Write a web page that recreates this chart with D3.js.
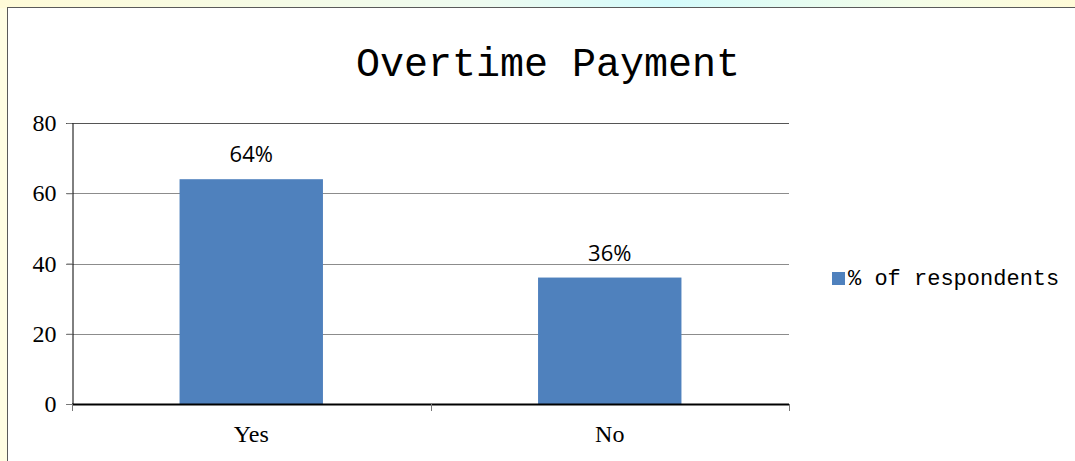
<!DOCTYPE html>
<html>
<head>
<meta charset="utf-8">
<script src="https://cdn.jsdelivr.net/npm/d3@7"></script>
<style>
  html, body { margin: 0; padding: 0; background: #fffde3; }
  #canvas { width: 1075px; height: 461px; }
</style>
</head>
<body>
<div id="canvas"></div>
<script>
const categories = ["Yes", "No"];
const values = [64, 36];
const valueLabels = ["64%", "36%"];
const yTicks = [0, 20, 40, 60, 80];
const seriesName = "% of respondents";
const title = "Overtime Payment";

const W = 1075, H = 461;
const svg = d3.select("#canvas")
    .append("svg")
    .attr("width", W)
    .attr("height", H);

// background strip with gradient at the top
const defs = svg.append("defs");
const grad = defs.append("linearGradient").attr("id", "topband");
grad.append("stop").attr("offset", "0%").attr("stop-color", "#fffbd8");
grad.append("stop").attr("offset", "45%").attr("stop-color", "#eefbf0");
grad.append("stop").attr("offset", "62%").attr("stop-color", "#d4fbfc");
grad.append("stop").attr("offset", "85%").attr("stop-color", "#f4fde8");
grad.append("stop").attr("offset", "100%").attr("stop-color", "#fffbd8");

svg.append("rect").attr("x", 0).attr("y", 0).attr("width", W).attr("height", 8)
    .attr("fill", "url(#topband)");

// chart box
svg.append("rect")
    .attr("x", 7.5).attr("y", 7.5)
    .attr("width", W).attr("height", H)
    .attr("fill", "#fff")
    .attr("stroke", "#5a5a5a")
    .attr("stroke-width", 1);

const margin = {left: 72, right: 789, top: 123, bottom: 404};

const x = d3.scaleBand()
    .domain(categories)
    .range([margin.left, margin.right])
    .paddingInner(0.6)
    .paddingOuter(0.3);

const y = d3.scaleLinear()
    .domain([0, 80])
    .range([margin.bottom, margin.top]);

// gridlines
svg.append("g")
    .selectAll("line")
    .data(yTicks.filter(d => d > 0))
    .join("line")
    .attr("x1", margin.left - 6)
    .attr("x2", margin.right)
    .attr("y1", d => Math.round(y(d)) + 0.5)
    .attr("y2", d => Math.round(y(d)) + 0.5)
    .attr("stroke", d => d === 80 ? "#555" : "#8c8c8c")
    .attr("stroke-width", 1);

// bars
svg.append("g")
    .selectAll("rect")
    .data(values)
    .join("rect")
    .attr("x", (d, i) => x(categories[i]))
    .attr("y", d => y(d))
    .attr("width", x.bandwidth())
    .attr("height", d => y(0) - y(d))
    .attr("fill", "#4f81bd");

// value labels
svg.append("g")
    .selectAll("text")
    .data(values)
    .join("text")
    .attr("x", (d, i) => x(categories[i]) + x.bandwidth() / 2)
    .attr("y", d => y(d) - 17)
    .attr("text-anchor", "middle")
    .style("font-family", "'Open Sans', 'Liberation Sans', sans-serif")
    .style("font-size", "22px")
    .attr("fill", "#000")
    .text((d, i) => valueLabels[i]);

// y axis
const yAxis = svg.append("g")
    .attr("transform", `translate(${margin.left + 0.5},0)`)
    .call(d3.axisLeft(y).tickValues(yTicks).tickSize(6).tickPadding(10));
yAxis.select(".domain").attr("stroke", "#000");
yAxis.selectAll(".tick line").attr("stroke", "#777");
yAxis.selectAll("text")
    .style("font-family", "'Liberation Serif', 'DejaVu Serif', serif")
    .style("font-size", "24px")
    .attr("fill", "#000");

// x axis
const xAxis = svg.append("g")
    .attr("transform", `translate(0,${margin.bottom + 0.5})`)
    .call(d3.axisBottom(x).tickSize(0).tickPadding(20));
xAxis.select(".domain").attr("stroke", "#000").attr("stroke-width", 2)
    .attr("d", `M${margin.left},0H${margin.right}`);
xAxis.selectAll("text")
    .style("font-family", "'Liberation Serif', 'DejaVu Serif', serif")
    .style("font-size", "24px")
    .attr("fill", "#000");

// x ticks between categories
const xTickPos = [margin.left, (margin.left + margin.right) / 2, margin.right];
svg.append("g")
    .selectAll("line")
    .data(xTickPos)
    .join("line")
    .attr("x1", d => Math.round(d) + 0.5)
    .attr("x2", d => Math.round(d) + 0.5)
    .attr("y1", margin.bottom)
    .attr("y2", margin.bottom + 7)
    .attr("stroke", "#777");

// title
svg.append("text")
    .attr("x", 548)
    .attr("y", 76)
    .attr("text-anchor", "middle")
    .style("font-family", "'Liberation Mono', 'DejaVu Sans Mono', monospace")
    .style("font-size", "40px")
    .attr("fill", "#000")
    .text(title);

// legend
const legend = svg.append("g").attr("transform", "translate(832,272)");
legend.append("rect")
    .attr("width", 13).attr("height", 13)
    .attr("fill", "#4f81bd");
legend.append("text")
    .attr("x", 16)
    .attr("y", 13)
    .style("font-family", "'Liberation Mono', 'DejaVu Sans Mono', monospace")
    .style("font-size", "22px")
    .attr("fill", "#000")
    .text(seriesName);
</script>
</body>
</html>
